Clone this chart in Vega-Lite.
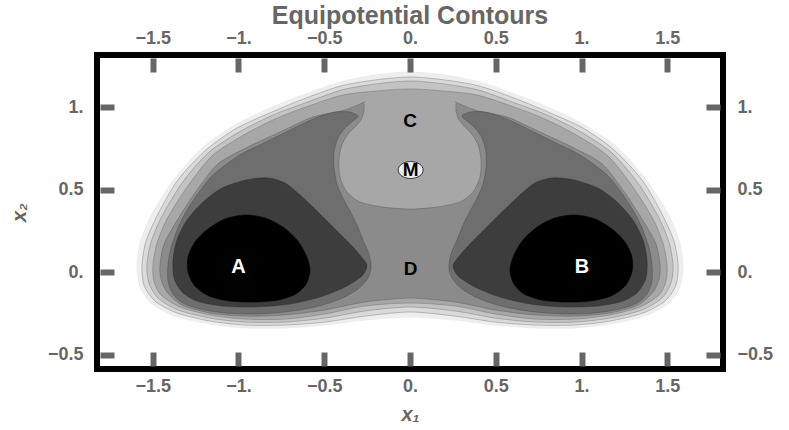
{
"$schema": "https://vega.github.io/schema/vega-lite/v6.json",
"width": 626, "height": 314,
"autosize": "none",
"padding": {"left": 97, "top": 55, "right": 66, "bottom": 61},
"background": "white",
"title": {"text": "Equipotential Contours", "font": "Liberation Sans", "fontSize": 25, "fontWeight": "bold", "color": "#666666", "anchor": "middle", "frame": "group", "baseline": "alphabetic", "offset": -20},
"config": {"view": {"stroke": "#000000", "strokeWidth": 6}},
"datasets": {
"poly": [
{"p":"L7","i":0,"x":0,"y":1.212},{"p":"L7","i":1,"x":-0.204,"y":1.194},{"p":"L7","i":2,"x":-0.408,"y":1.152},{"p":"L7","i":3,"x":-0.612,"y":1.079},{"p":"L7","i":4,"x":-0.816,"y":0.995},{"p":"L7","i":5,"x":-1.020,"y":0.892},{"p":"L7","i":6,"x":-1.207,"y":0.758},{"p":"L7","i":7,"x":-1.370,"y":0.571},{"p":"L7","i":8,"x":-1.499,"y":0.365},{"p":"L7","i":9,"x":-1.569,"y":0.196},{"p":"L7","i":10,"x":-1.592,"y":0.044},{"p":"L7","i":11,"x":-1.574,"y":-0.089},{"p":"L7","i":12,"x":-1.504,"y":-0.192},{"p":"L7","i":13,"x":-1.370,"y":-0.265},{"p":"L7","i":14,"x":-1.166,"y":-0.313},{"p":"L7","i":15,"x":-0.962,"y":-0.337},{"p":"L7","i":16,"x":-0.729,"y":-0.337},{"p":"L7","i":17,"x":-0.496,"y":-0.319},{"p":"L7","i":18,"x":-0.262,"y":-0.289},{"p":"L7","i":19,"x":0,"y":-0.271},{"p":"L7","i":20,"x":0.262,"y":-0.289},{"p":"L7","i":21,"x":0.496,"y":-0.319},{"p":"L7","i":22,"x":0.729,"y":-0.337},{"p":"L7","i":23,"x":0.962,"y":-0.337},{"p":"L7","i":24,"x":1.166,"y":-0.313},{"p":"L7","i":25,"x":1.370,"y":-0.265},{"p":"L7","i":26,"x":1.504,"y":-0.192},{"p":"L7","i":27,"x":1.574,"y":-0.089},{"p":"L7","i":28,"x":1.592,"y":0.044},{"p":"L7","i":29,"x":1.569,"y":0.196},{"p":"L7","i":30,"x":1.499,"y":0.365},{"p":"L7","i":31,"x":1.370,"y":0.571},{"p":"L7","i":32,"x":1.207,"y":0.758},{"p":"L7","i":33,"x":1.020,"y":0.892},{"p":"L7","i":34,"x":0.816,"y":0.995},{"p":"L7","i":35,"x":0.612,"y":1.079},{"p":"L7","i":36,"x":0.408,"y":1.152},{"p":"L7","i":37,"x":0.204,"y":1.194},
{"p":"L6","i":0,"x":0,"y":1.182},{"p":"L6","i":1,"x":-0.204,"y":1.164},{"p":"L6","i":2,"x":-0.402,"y":1.128},{"p":"L6","i":3,"x":-0.606,"y":1.055},{"p":"L6","i":4,"x":-0.805,"y":0.970},{"p":"L6","i":5,"x":-1.009,"y":0.873},{"p":"L6","i":6,"x":-1.190,"y":0.740},{"p":"L6","i":7,"x":-1.353,"y":0.559},{"p":"L6","i":8,"x":-1.469,"y":0.353},{"p":"L6","i":9,"x":-1.539,"y":0.189},{"p":"L6","i":10,"x":-1.563,"y":0.044},{"p":"L6","i":11,"x":-1.551,"y":-0.077},{"p":"L6","i":12,"x":-1.487,"y":-0.174},{"p":"L6","i":13,"x":-1.359,"y":-0.246},{"p":"L6","i":14,"x":-1.166,"y":-0.295},{"p":"L6","i":15,"x":-0.962,"y":-0.319},{"p":"L6","i":16,"x":-0.729,"y":-0.319},{"p":"L6","i":17,"x":-0.496,"y":-0.301},{"p":"L6","i":18,"x":-0.262,"y":-0.265},{"p":"L6","i":19,"x":0,"y":-0.240},{"p":"L6","i":20,"x":0.262,"y":-0.265},{"p":"L6","i":21,"x":0.496,"y":-0.301},{"p":"L6","i":22,"x":0.729,"y":-0.319},{"p":"L6","i":23,"x":0.962,"y":-0.319},{"p":"L6","i":24,"x":1.166,"y":-0.295},{"p":"L6","i":25,"x":1.359,"y":-0.246},{"p":"L6","i":26,"x":1.487,"y":-0.174},{"p":"L6","i":27,"x":1.551,"y":-0.077},{"p":"L6","i":28,"x":1.563,"y":0.044},{"p":"L6","i":29,"x":1.539,"y":0.189},{"p":"L6","i":30,"x":1.469,"y":0.353},{"p":"L6","i":31,"x":1.353,"y":0.559},{"p":"L6","i":32,"x":1.190,"y":0.740},{"p":"L6","i":33,"x":1.009,"y":0.873},{"p":"L6","i":34,"x":0.805,"y":0.970},{"p":"L6","i":35,"x":0.606,"y":1.055},{"p":"L6","i":36,"x":0.402,"y":1.128},{"p":"L6","i":37,"x":0.204,"y":1.164},
{"p":"L5","i":0,"x":0,"y":1.158},{"p":"L5","i":1,"x":-0.198,"y":1.140},{"p":"L5","i":2,"x":-0.397,"y":1.104},{"p":"L5","i":3,"x":-0.595,"y":1.031},{"p":"L5","i":4,"x":-0.799,"y":0.952},{"p":"L5","i":5,"x":-0.997,"y":0.849},{"p":"L5","i":6,"x":-1.178,"y":0.722},{"p":"L5","i":7,"x":-1.329,"y":0.541},{"p":"L5","i":8,"x":-1.446,"y":0.341},{"p":"L5","i":9,"x":-1.510,"y":0.183},{"p":"L5","i":10,"x":-1.534,"y":0.044},{"p":"L5","i":11,"x":-1.522,"y":-0.065},{"p":"L5","i":12,"x":-1.469,"y":-0.156},{"p":"L5","i":13,"x":-1.353,"y":-0.228},{"p":"L5","i":14,"x":-1.166,"y":-0.277},{"p":"L5","i":15,"x":-0.962,"y":-0.301},{"p":"L5","i":16,"x":-0.729,"y":-0.301},{"p":"L5","i":17,"x":-0.496,"y":-0.277},{"p":"L5","i":18,"x":-0.262,"y":-0.234},{"p":"L5","i":19,"x":0,"y":-0.210},{"p":"L5","i":20,"x":0.262,"y":-0.234},{"p":"L5","i":21,"x":0.496,"y":-0.277},{"p":"L5","i":22,"x":0.729,"y":-0.301},{"p":"L5","i":23,"x":0.962,"y":-0.301},{"p":"L5","i":24,"x":1.166,"y":-0.277},{"p":"L5","i":25,"x":1.353,"y":-0.228},{"p":"L5","i":26,"x":1.469,"y":-0.156},{"p":"L5","i":27,"x":1.522,"y":-0.065},{"p":"L5","i":28,"x":1.534,"y":0.044},{"p":"L5","i":29,"x":1.510,"y":0.183},{"p":"L5","i":30,"x":1.446,"y":0.341},{"p":"L5","i":31,"x":1.329,"y":0.541},{"p":"L5","i":32,"x":1.178,"y":0.722},{"p":"L5","i":33,"x":0.997,"y":0.849},{"p":"L5","i":34,"x":0.799,"y":0.952},{"p":"L5","i":35,"x":0.595,"y":1.031},{"p":"L5","i":36,"x":0.397,"y":1.104},{"p":"L5","i":37,"x":0.198,"y":1.140},
{"p":"L4","i":0,"x":0,"y":1.110},{"p":"L4","i":1,"x":-0.198,"y":1.097},{"p":"L4","i":2,"x":-0.391,"y":1.073},{"p":"L4","i":3,"x":-0.589,"y":1.007},{"p":"L4","i":4,"x":-0.787,"y":0.928},{"p":"L4","i":5,"x":-0.980,"y":0.825},{"p":"L4","i":6,"x":-1.155,"y":0.704},{"p":"L4","i":7,"x":-1.300,"y":0.516},{"p":"L4","i":8,"x":-1.417,"y":0.323},{"p":"L4","i":9,"x":-1.475,"y":0.177},{"p":"L4","i":10,"x":-1.499,"y":0.044},{"p":"L4","i":11,"x":-1.493,"y":-0.053},{"p":"L4","i":12,"x":-1.452,"y":-0.137},{"p":"L4","i":13,"x":-1.341,"y":-0.210},{"p":"L4","i":14,"x":-1.166,"y":-0.258},{"p":"L4","i":15,"x":-0.962,"y":-0.283},{"p":"L4","i":16,"x":-0.729,"y":-0.283},{"p":"L4","i":17,"x":-0.496,"y":-0.252},{"p":"L4","i":18,"x":-0.262,"y":-0.204},{"p":"L4","i":19,"x":0,"y":-0.186},{"p":"L4","i":20,"x":0.262,"y":-0.204},{"p":"L4","i":21,"x":0.496,"y":-0.252},{"p":"L4","i":22,"x":0.729,"y":-0.283},{"p":"L4","i":23,"x":0.962,"y":-0.283},{"p":"L4","i":24,"x":1.166,"y":-0.258},{"p":"L4","i":25,"x":1.341,"y":-0.210},{"p":"L4","i":26,"x":1.452,"y":-0.137},{"p":"L4","i":27,"x":1.493,"y":-0.053},{"p":"L4","i":28,"x":1.499,"y":0.044},{"p":"L4","i":29,"x":1.475,"y":0.177},{"p":"L4","i":30,"x":1.417,"y":0.323},{"p":"L4","i":31,"x":1.300,"y":0.516},{"p":"L4","i":32,"x":1.155,"y":0.704},{"p":"L4","i":33,"x":0.980,"y":0.825},{"p":"L4","i":34,"x":0.787,"y":0.928},{"p":"L4","i":35,"x":0.589,"y":1.007},{"p":"L4","i":36,"x":0.391,"y":1.073},{"p":"L4","i":37,"x":0.198,"y":1.097},
{"p":"L3","i":0,"x":0,"y":1.073},{"p":"L3","i":1,"x":-0.198,"y":1.055},{"p":"L3","i":2,"x":-0.379,"y":0.982},{"p":"L3","i":3,"x":-0.566,"y":0.940},{"p":"L3","i":4,"x":-0.758,"y":0.849},{"p":"L3","i":5,"x":-0.945,"y":0.758},{"p":"L3","i":6,"x":-1.120,"y":0.656},{"p":"L3","i":7,"x":-1.254,"y":0.480},{"p":"L3","i":8,"x":-1.364,"y":0.304},{"p":"L3","i":9,"x":-1.434,"y":0.171},{"p":"L3","i":10,"x":-1.458,"y":0.044},{"p":"L3","i":11,"x":-1.452,"y":-0.041},{"p":"L3","i":12,"x":-1.417,"y":-0.119},{"p":"L3","i":13,"x":-1.329,"y":-0.198},{"p":"L3","i":14,"x":-1.166,"y":-0.246},{"p":"L3","i":15,"x":-0.962,"y":-0.265},{"p":"L3","i":16,"x":-0.729,"y":-0.258},{"p":"L3","i":17,"x":-0.496,"y":-0.228},{"p":"L3","i":18,"x":-0.262,"y":-0.180},{"p":"L3","i":19,"x":0,"y":-0.156},{"p":"L3","i":20,"x":0.262,"y":-0.180},{"p":"L3","i":21,"x":0.496,"y":-0.228},{"p":"L3","i":22,"x":0.729,"y":-0.258},{"p":"L3","i":23,"x":0.962,"y":-0.265},{"p":"L3","i":24,"x":1.166,"y":-0.246},{"p":"L3","i":25,"x":1.329,"y":-0.198},{"p":"L3","i":26,"x":1.417,"y":-0.119},{"p":"L3","i":27,"x":1.452,"y":-0.041},{"p":"L3","i":28,"x":1.458,"y":0.044},{"p":"L3","i":29,"x":1.434,"y":0.171},{"p":"L3","i":30,"x":1.364,"y":0.304},{"p":"L3","i":31,"x":1.254,"y":0.480},{"p":"L3","i":32,"x":1.120,"y":0.656},{"p":"L3","i":33,"x":0.945,"y":0.758},{"p":"L3","i":34,"x":0.758,"y":0.849},{"p":"L3","i":35,"x":0.566,"y":0.940},{"p":"L3","i":36,"x":0.379,"y":0.982},{"p":"L3","i":37,"x":0.198,"y":1.055},
{"p":"blob","i":0,"x":0,"y":1.095},{"p":"blob","i":1,"x":-0.163,"y":1.088},{"p":"blob","i":2,"x":-0.240,"y":1.062},{"p":"blob","i":3,"x":-0.268,"y":1.019},{"p":"blob","i":4,"x":-0.268,"y":0.982},{"p":"blob","i":5,"x":-0.280,"y":0.934},{"p":"blob","i":6,"x":-0.309,"y":0.892},{"p":"blob","i":7,"x":-0.356,"y":0.843},{"p":"blob","i":8,"x":-0.397,"y":0.771},{"p":"blob","i":9,"x":-0.414,"y":0.680},{"p":"blob","i":10,"x":-0.408,"y":0.577},{"p":"blob","i":11,"x":-0.367,"y":0.486},{"p":"blob","i":12,"x":-0.292,"y":0.426},{"p":"blob","i":13,"x":-0.157,"y":0.395},{"p":"blob","i":14,"x":0,"y":0.383},{"p":"blob","i":15,"x":0.157,"y":0.395},{"p":"blob","i":16,"x":0.292,"y":0.426},{"p":"blob","i":17,"x":0.367,"y":0.486},{"p":"blob","i":18,"x":0.408,"y":0.577},{"p":"blob","i":19,"x":0.414,"y":0.680},{"p":"blob","i":20,"x":0.397,"y":0.771},{"p":"blob","i":21,"x":0.356,"y":0.843},{"p":"blob","i":22,"x":0.309,"y":0.892},{"p":"blob","i":23,"x":0.280,"y":0.934},{"p":"blob","i":24,"x":0.268,"y":0.982},{"p":"blob","i":25,"x":0.268,"y":1.019},{"p":"blob","i":26,"x":0.240,"y":1.062},{"p":"blob","i":27,"x":0.163,"y":1.088},
{"p":"L2a","i":0,"x":-0.303,"y":0.946},{"p":"L2a","i":1,"x":-0.350,"y":0.970},{"p":"L2a","i":2,"x":-0.437,"y":0.970},{"p":"L2a","i":3,"x":-0.536,"y":0.940},{"p":"L2a","i":4,"x":-0.641,"y":0.892},{"p":"L2a","i":5,"x":-0.746,"y":0.837},{"p":"L2a","i":6,"x":-0.863,"y":0.777},{"p":"L2a","i":7,"x":-0.962,"y":0.728},{"p":"L2a","i":8,"x":-1.061,"y":0.662},{"p":"L2a","i":9,"x":-1.155,"y":0.583},{"p":"L2a","i":10,"x":-1.230,"y":0.486},{"p":"L2a","i":11,"x":-1.300,"y":0.377},{"p":"L2a","i":12,"x":-1.353,"y":0.268},{"p":"L2a","i":13,"x":-1.394,"y":0.147},{"p":"L2a","i":14,"x":-1.411,"y":0.044},{"p":"L2a","i":15,"x":-1.411,"y":-0.053},{"p":"L2a","i":16,"x":-1.382,"y":-0.131},{"p":"L2a","i":17,"x":-1.324,"y":-0.186},{"p":"L2a","i":18,"x":-1.224,"y":-0.222},{"p":"L2a","i":19,"x":-1.079,"y":-0.246},{"p":"L2a","i":20,"x":-0.904,"y":-0.252},{"p":"L2a","i":21,"x":-0.729,"y":-0.240},{"p":"L2a","i":22,"x":-0.554,"y":-0.210},{"p":"L2a","i":23,"x":-0.408,"y":-0.162},{"p":"L2a","i":24,"x":-0.303,"y":-0.101},{"p":"L2a","i":25,"x":-0.245,"y":-0.035},{"p":"L2a","i":26,"x":-0.227,"y":0.032},{"p":"L2a","i":27,"x":-0.239,"y":0.111},{"p":"L2a","i":28,"x":-0.274,"y":0.196},{"p":"L2a","i":29,"x":-0.309,"y":0.286},{"p":"L2a","i":30,"x":-0.350,"y":0.371},{"p":"L2a","i":31,"x":-0.391,"y":0.450},{"p":"L2a","i":32,"x":-0.426,"y":0.535},{"p":"L2a","i":33,"x":-0.443,"y":0.631},{"p":"L2a","i":34,"x":-0.443,"y":0.728},{"p":"L2a","i":35,"x":-0.420,"y":0.813},{"p":"L2a","i":36,"x":-0.379,"y":0.873},{"p":"L2a","i":37,"x":-0.332,"y":0.916},
{"p":"L2b","i":0,"x":0.303,"y":0.946},{"p":"L2b","i":1,"x":0.350,"y":0.970},{"p":"L2b","i":2,"x":0.437,"y":0.970},{"p":"L2b","i":3,"x":0.536,"y":0.940},{"p":"L2b","i":4,"x":0.641,"y":0.892},{"p":"L2b","i":5,"x":0.746,"y":0.837},{"p":"L2b","i":6,"x":0.863,"y":0.777},{"p":"L2b","i":7,"x":0.962,"y":0.728},{"p":"L2b","i":8,"x":1.061,"y":0.662},{"p":"L2b","i":9,"x":1.155,"y":0.583},{"p":"L2b","i":10,"x":1.230,"y":0.486},{"p":"L2b","i":11,"x":1.300,"y":0.377},{"p":"L2b","i":12,"x":1.353,"y":0.268},{"p":"L2b","i":13,"x":1.394,"y":0.147},{"p":"L2b","i":14,"x":1.411,"y":0.044},{"p":"L2b","i":15,"x":1.411,"y":-0.053},{"p":"L2b","i":16,"x":1.382,"y":-0.131},{"p":"L2b","i":17,"x":1.324,"y":-0.186},{"p":"L2b","i":18,"x":1.224,"y":-0.222},{"p":"L2b","i":19,"x":1.079,"y":-0.246},{"p":"L2b","i":20,"x":0.904,"y":-0.252},{"p":"L2b","i":21,"x":0.729,"y":-0.240},{"p":"L2b","i":22,"x":0.554,"y":-0.210},{"p":"L2b","i":23,"x":0.408,"y":-0.162},{"p":"L2b","i":24,"x":0.303,"y":-0.101},{"p":"L2b","i":25,"x":0.245,"y":-0.035},{"p":"L2b","i":26,"x":0.227,"y":0.032},{"p":"L2b","i":27,"x":0.239,"y":0.111},{"p":"L2b","i":28,"x":0.274,"y":0.196},{"p":"L2b","i":29,"x":0.309,"y":0.286},{"p":"L2b","i":30,"x":0.350,"y":0.371},{"p":"L2b","i":31,"x":0.391,"y":0.450},{"p":"L2b","i":32,"x":0.426,"y":0.535},{"p":"L2b","i":33,"x":0.443,"y":0.631},{"p":"L2b","i":34,"x":0.443,"y":0.728},{"p":"L2b","i":35,"x":0.420,"y":0.813},{"p":"L2b","i":36,"x":0.379,"y":0.873},{"p":"L2b","i":37,"x":0.332,"y":0.916},
{"p":"L1a","i":0,"x":-0.828,"y":0.571},{"p":"L1a","i":1,"x":-0.729,"y":0.541},{"p":"L1a","i":2,"x":-0.641,"y":0.468},{"p":"L1a","i":3,"x":-0.536,"y":0.365},{"p":"L1a","i":4,"x":-0.431,"y":0.256},{"p":"L1a","i":5,"x":-0.338,"y":0.159},{"p":"L1a","i":6,"x":-0.274,"y":0.081},{"p":"L1a","i":7,"x":-0.251,"y":0.038},{"p":"L1a","i":8,"x":-0.280,"y":-0.022},{"p":"L1a","i":9,"x":-0.379,"y":-0.089},{"p":"L1a","i":10,"x":-0.525,"y":-0.150},{"p":"L1a","i":11,"x":-0.700,"y":-0.192},{"p":"L1a","i":12,"x":-0.904,"y":-0.210},{"p":"L1a","i":13,"x":-1.096,"y":-0.204},{"p":"L1a","i":14,"x":-1.242,"y":-0.174},{"p":"L1a","i":15,"x":-1.329,"y":-0.119},{"p":"L1a","i":16,"x":-1.376,"y":-0.035},{"p":"L1a","i":17,"x":-1.382,"y":0.074},{"p":"L1a","i":18,"x":-1.359,"y":0.196},{"p":"L1a","i":19,"x":-1.300,"y":0.317},{"p":"L1a","i":20,"x":-1.207,"y":0.426},{"p":"L1a","i":21,"x":-1.096,"y":0.510},{"p":"L1a","i":22,"x":-0.956,"y":0.559},
{"p":"L1b","i":0,"x":0.828,"y":0.571},{"p":"L1b","i":1,"x":0.729,"y":0.541},{"p":"L1b","i":2,"x":0.641,"y":0.468},{"p":"L1b","i":3,"x":0.536,"y":0.365},{"p":"L1b","i":4,"x":0.431,"y":0.256},{"p":"L1b","i":5,"x":0.338,"y":0.159},{"p":"L1b","i":6,"x":0.274,"y":0.081},{"p":"L1b","i":7,"x":0.251,"y":0.038},{"p":"L1b","i":8,"x":0.280,"y":-0.022},{"p":"L1b","i":9,"x":0.379,"y":-0.089},{"p":"L1b","i":10,"x":0.525,"y":-0.150},{"p":"L1b","i":11,"x":0.700,"y":-0.192},{"p":"L1b","i":12,"x":0.904,"y":-0.210},{"p":"L1b","i":13,"x":1.096,"y":-0.204},{"p":"L1b","i":14,"x":1.242,"y":-0.174},{"p":"L1b","i":15,"x":1.329,"y":-0.119},{"p":"L1b","i":16,"x":1.376,"y":-0.035},{"p":"L1b","i":17,"x":1.382,"y":0.074},{"p":"L1b","i":18,"x":1.359,"y":0.196},{"p":"L1b","i":19,"x":1.300,"y":0.317},{"p":"L1b","i":20,"x":1.207,"y":0.426},{"p":"L1b","i":21,"x":1.096,"y":0.510},{"p":"L1b","i":22,"x":0.956,"y":0.559},
{"p":"L0a","i":0,"x":-0.962,"y":0.347},{"p":"L0a","i":1,"x":-0.845,"y":0.329},{"p":"L0a","i":2,"x":-0.741,"y":0.274},{"p":"L0a","i":3,"x":-0.659,"y":0.196},{"p":"L0a","i":4,"x":-0.606,"y":0.105},{"p":"L0a","i":5,"x":-0.583,"y":0.014},{"p":"L0a","i":6,"x":-0.606,"y":-0.071},{"p":"L0a","i":7,"x":-0.665,"y":-0.131},{"p":"L0a","i":8,"x":-0.770,"y":-0.168},{"p":"L0a","i":9,"x":-0.904,"y":-0.180},{"p":"L0a","i":10,"x":-1.050,"y":-0.174},{"p":"L0a","i":11,"x":-1.172,"y":-0.143},{"p":"L0a","i":12,"x":-1.254,"y":-0.083},{"p":"L0a","i":13,"x":-1.294,"y":0.002},{"p":"L0a","i":14,"x":-1.294,"y":0.093},{"p":"L0a","i":15,"x":-1.254,"y":0.183},{"p":"L0a","i":16,"x":-1.178,"y":0.262},{"p":"L0a","i":17,"x":-1.079,"y":0.323},
{"p":"L0b","i":0,"x":0.962,"y":0.347},{"p":"L0b","i":1,"x":0.845,"y":0.329},{"p":"L0b","i":2,"x":0.741,"y":0.274},{"p":"L0b","i":3,"x":0.659,"y":0.196},{"p":"L0b","i":4,"x":0.606,"y":0.105},{"p":"L0b","i":5,"x":0.583,"y":0.014},{"p":"L0b","i":6,"x":0.606,"y":-0.071},{"p":"L0b","i":7,"x":0.665,"y":-0.131},{"p":"L0b","i":8,"x":0.770,"y":-0.168},{"p":"L0b","i":9,"x":0.904,"y":-0.180},{"p":"L0b","i":10,"x":1.050,"y":-0.174},{"p":"L0b","i":11,"x":1.172,"y":-0.143},{"p":"L0b","i":12,"x":1.254,"y":-0.083},{"p":"L0b","i":13,"x":1.294,"y":0.002},{"p":"L0b","i":14,"x":1.294,"y":0.093},{"p":"L0b","i":15,"x":1.254,"y":0.183},{"p":"L0b","i":16,"x":1.178,"y":0.262},{"p":"L0b","i":17,"x":1.079,"y":0.323}
],
"labels": [
{"t":"A","x":-1.0,"y":0.035},{"t":"B","x":1.003,"y":0.035},{"t":"C","x":0.0,"y":0.916},{"t":"D","x":0.003,"y":0.023},{"t":"M","x":0.004,"y":0.619}
]
},
"resolve": {"scale": {"x": "independent", "y": "independent"}, "axis": {"x": "independent", "y": "independent"}},
"layer": [
{"data": {"name": "poly"}, "transform": [{"filter": "datum.p == 'L7'"}],
 "mark": {"type": "line", "interpolate": "cardinal-closed", "tension": 0.2, "fill": "#eeeeee", "stroke": "#e2e2e2", "strokeWidth": 0.5},
 "encoding": {
  "x": {"field": "x", "type": "quantitative", "scale": {"domain": [-1.825, 1.825], "nice": false, "zero": false},
        "axis": {"orient": "bottom", "values": [-1.5, -1, -0.5, 0, 0.5, 1, 1.5], "labelExpr": "(datum.value < 0 ? '−' : '') + (datum.value % 1 == 0 ? format(abs(datum.value), 'd') + '.' : format(abs(datum.value), '.1f'))", "offset": -3, "tickSize": -14, "tickWidth": 6, "tickColor": "#666666", "domain": false, "grid": false, "labelFont": "Liberation Sans", "labelFontSize": 18, "labelFontWeight": "bold", "labelColor": "#666666", "labelPadding": 25, "labelOverlap": false, "labelFlush": false, "zindex": 1, "title": "x₁", "titleFont": "Liberation Sans", "titleFontStyle": "italic", "titleFontWeight": "bold", "titleFontSize": 20, "titleColor": "#666666", "titleBaseline": "alphabetic", "titleY": 54}},
  "y": {"field": "y", "type": "quantitative", "scale": {"domain": [-0.585, 1.315], "nice": false, "zero": false},
        "axis": {"orient": "left", "values": [-0.5, 0, 0.5, 1], "labelExpr": "(datum.value < 0 ? '−' : '') + (datum.value % 1 == 0 ? format(abs(datum.value), 'd') + '.' : format(abs(datum.value), '.1f'))", "offset": -3, "tickSize": -14, "tickWidth": 6, "tickColor": "#666666", "domain": false, "grid": false, "labelFont": "Liberation Sans", "labelFontSize": 18, "labelFontWeight": "bold", "labelColor": "#666666", "labelPadding": 31, "labelOverlap": false, "labelFlush": false, "zindex": 1, "title": "x₂", "titleFont": "Liberation Sans", "titleFontStyle": "italic", "titleFontWeight": "bold", "titleFontSize": 20, "titleColor": "#666666", "titleBaseline": "alphabetic", "titleAngle": -90, "titleX": -75, "titleY": 157}},
  "order": {"field": "i", "type": "quantitative"}}},
{"data": {"name": "poly"}, "transform": [{"filter": "datum.p == 'L6'"}],
 "mark": {"type": "line", "interpolate": "cardinal-closed", "tension": 0.2, "fill": "#dadada", "stroke": "#5a5a5a", "strokeWidth": 0.6, "strokeOpacity": 0.6},
 "encoding": {"x": {"field": "x", "type": "quantitative", "scale": {"domain": [-1.825, 1.825], "nice": false, "zero": false}, "axis": null}, "y": {"field": "y", "type": "quantitative", "scale": {"domain": [-0.585, 1.315], "nice": false, "zero": false}, "axis": null}, "order": {"field": "i", "type": "quantitative"}}},
{"data": {"name": "poly"}, "transform": [{"filter": "datum.p == 'L5'"}],
 "mark": {"type": "line", "interpolate": "cardinal-closed", "tension": 0.2, "fill": "#c3c3c3", "stroke": "#5a5a5a", "strokeWidth": 0.6, "strokeOpacity": 0.6},
 "encoding": {"x": {"field": "x", "type": "quantitative", "scale": {"domain": [-1.825, 1.825], "nice": false, "zero": false}, "axis": null}, "y": {"field": "y", "type": "quantitative", "scale": {"domain": [-0.585, 1.315], "nice": false, "zero": false}, "axis": null}, "order": {"field": "i", "type": "quantitative"}}},
{"data": {"name": "poly"}, "transform": [{"filter": "datum.p == 'L4'"}],
 "mark": {"type": "line", "interpolate": "cardinal-closed", "tension": 0.2, "fill": "#a7a7a7", "stroke": "#5a5a5a", "strokeWidth": 0.6, "strokeOpacity": 0.6},
 "encoding": {"x": {"field": "x", "type": "quantitative", "scale": {"domain": [-1.825, 1.825], "nice": false, "zero": false}, "axis": null}, "y": {"field": "y", "type": "quantitative", "scale": {"domain": [-0.585, 1.315], "nice": false, "zero": false}, "axis": null}, "order": {"field": "i", "type": "quantitative"}}},
{"data": {"name": "poly"}, "transform": [{"filter": "datum.p == 'L3'"}],
 "mark": {"type": "line", "interpolate": "cardinal-closed", "tension": 0.2, "fill": "#8b8b8b", "stroke": "#4a4a4a", "strokeWidth": 0.6, "strokeOpacity": 0.6},
 "encoding": {"x": {"field": "x", "type": "quantitative", "scale": {"domain": [-1.825, 1.825], "nice": false, "zero": false}, "axis": null}, "y": {"field": "y", "type": "quantitative", "scale": {"domain": [-0.585, 1.315], "nice": false, "zero": false}, "axis": null}, "order": {"field": "i", "type": "quantitative"}}},
{"data": {"name": "poly"}, "transform": [{"filter": "datum.p == 'blob'"}],
 "mark": {"type": "line", "interpolate": "cardinal-closed", "tension": 0.2, "fill": "#a7a7a7", "strokeWidth": 0},
 "encoding": {"x": {"field": "x", "type": "quantitative", "scale": {"domain": [-1.825, 1.825], "nice": false, "zero": false}, "axis": null}, "y": {"field": "y", "type": "quantitative", "scale": {"domain": [-0.585, 1.315], "nice": false, "zero": false}, "axis": null}, "order": {"field": "i", "type": "quantitative"}}},
{"data": {"name": "poly"}, "transform": [{"filter": "datum.p == 'blob' && datum.i >= 3 && datum.i <= 25"}],
 "mark": {"type": "line", "interpolate": "cardinal", "tension": 0.2, "stroke": "#4a4a4a", "strokeWidth": 0.6, "strokeOpacity": 0.6},
 "encoding": {"x": {"field": "x", "type": "quantitative", "scale": {"domain": [-1.825, 1.825], "nice": false, "zero": false}, "axis": null}, "y": {"field": "y", "type": "quantitative", "scale": {"domain": [-0.585, 1.315], "nice": false, "zero": false}, "axis": null}, "order": {"field": "i", "type": "quantitative"}}},
{"data": {"name": "poly"}, "transform": [{"filter": "datum.p == 'L2a' || datum.p == 'L2b'"}],
 "mark": {"type": "line", "interpolate": "cardinal-closed", "tension": 0.2, "fill": "#6e6e6e", "stroke": "#3a3a3a", "strokeWidth": 0.6, "strokeOpacity": 0.6},
 "encoding": {"x": {"field": "x", "type": "quantitative", "scale": {"domain": [-1.825, 1.825], "nice": false, "zero": false}, "axis": null}, "y": {"field": "y", "type": "quantitative", "scale": {"domain": [-0.585, 1.315], "nice": false, "zero": false}, "axis": null}, "order": {"field": "i", "type": "quantitative"}, "detail": {"field": "p", "type": "nominal"}}},
{"data": {"name": "poly"}, "transform": [{"filter": "datum.p == 'L1a' || datum.p == 'L1b'"}],
 "mark": {"type": "line", "interpolate": "cardinal-closed", "tension": 0.2, "fill": "#3d3d3d", "stroke": "#222222", "strokeWidth": 0.6, "strokeOpacity": 0.6},
 "encoding": {"x": {"field": "x", "type": "quantitative", "scale": {"domain": [-1.825, 1.825], "nice": false, "zero": false}, "axis": null}, "y": {"field": "y", "type": "quantitative", "scale": {"domain": [-0.585, 1.315], "nice": false, "zero": false}, "axis": null}, "order": {"field": "i", "type": "quantitative"}, "detail": {"field": "p", "type": "nominal"}}},
{"data": {"name": "poly"}, "transform": [{"filter": "datum.p == 'L0a' || datum.p == 'L0b'"}],
 "mark": {"type": "line", "interpolate": "cardinal-closed", "tension": 0.2, "fill": "#000000", "stroke": "#000000", "strokeWidth": 0.6},
 "encoding": {"x": {"field": "x", "type": "quantitative", "scale": {"domain": [-1.825, 1.825], "nice": false, "zero": false}, "axis": null}, "y": {"field": "y", "type": "quantitative", "scale": {"domain": [-0.585, 1.315], "nice": false, "zero": false}, "axis": null}, "order": {"field": "i", "type": "quantitative"}, "detail": {"field": "p", "type": "nominal"}}},
{"data": {"name": "labels"}, "transform": [{"filter": "datum.t == 'M'"}],
 "mark": {"type": "point", "shape": "M -1 0 A 1 0.68 0 1 1 1 0 A 1 0.68 0 1 1 -1 0 Z", "size": 625, "filled": true, "fill": "#ececec", "stroke": "#333333", "strokeWidth": 1, "opacity": 1},
 "encoding": {"x": {"field": "x", "type": "quantitative", "scale": {"domain": [-1.825, 1.825], "nice": false, "zero": false}, "axis": null}, "y": {"field": "y", "type": "quantitative", "scale": {"domain": [-0.585, 1.315], "nice": false, "zero": false}, "axis": null}}},
{"data": {"name": "labels"}, "transform": [{"filter": "datum.t == 'A' || datum.t == 'B'"}],
 "mark": {"type": "text", "font": "Liberation Sans", "fontWeight": "bold", "fontSize": 20, "color": "#ffffff", "align": "center", "baseline": "middle"},
 "encoding": {"x": {"field": "x", "type": "quantitative", "scale": {"domain": [-1.825, 1.825], "nice": false, "zero": false}, "axis": null}, "y": {"field": "y", "type": "quantitative", "scale": {"domain": [-0.585, 1.315], "nice": false, "zero": false}, "axis": null}, "text": {"field": "t", "type": "nominal"}}},
{"data": {"name": "labels"}, "transform": [{"filter": "datum.t == 'C' || datum.t == 'D' || datum.t == 'M'"}],
 "mark": {"type": "text", "font": "Liberation Sans", "fontWeight": "bold", "fontSize": 19, "color": "#000000", "align": "center", "baseline": "middle"},
 "encoding": {
  "x": {"field": "x", "type": "quantitative", "scale": {"domain": [-1.825, 1.825], "nice": false, "zero": false},
        "axis": {"orient": "top", "values": [-1.5, -1, -0.5, 0, 0.5, 1, 1.5], "labelExpr": "(datum.value < 0 ? '−' : '') + (datum.value % 1 == 0 ? format(abs(datum.value), 'd') + '.' : format(abs(datum.value), '.1f'))", "offset": -3, "tickSize": -14, "tickWidth": 6, "tickColor": "#666666", "domain": false, "grid": false, "labelFont": "Liberation Sans", "labelFontSize": 18, "labelFontWeight": "bold", "labelColor": "#666666", "labelPadding": 25, "labelOverlap": false, "labelFlush": false, "zindex": 1, "title": null}},
  "y": {"field": "y", "type": "quantitative", "scale": {"domain": [-0.585, 1.315], "nice": false, "zero": false},
        "axis": {"orient": "right", "values": [-0.5, 0, 0.5, 1], "labelExpr": "(datum.value < 0 ? '−' : '') + (datum.value % 1 == 0 ? format(abs(datum.value), 'd') + '.' : format(abs(datum.value), '.1f'))", "offset": -3, "tickSize": -14, "tickWidth": 6, "tickColor": "#666666", "domain": false, "grid": false, "labelFont": "Liberation Sans", "labelFontSize": 18, "labelFontWeight": "bold", "labelColor": "#666666", "labelPadding": 31, "labelOverlap": false, "labelFlush": false, "zindex": 1, "title": null}},
  "text": {"field": "t", "type": "nominal"}}}
]
}
